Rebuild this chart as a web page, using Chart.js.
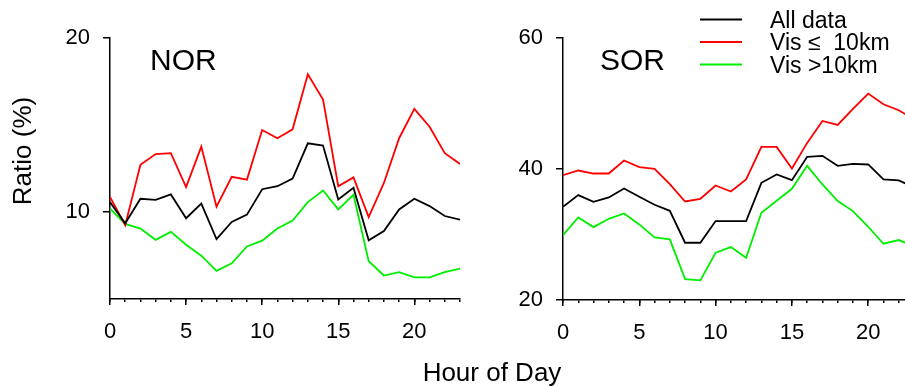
<!DOCTYPE html>
<html>
<head>
<meta charset="utf-8">
<script src="https://cdn.jsdelivr.net/npm/chart.js@4.4.0/dist/chart.umd.min.js"></script>
<style>
  html, body { margin: 0; padding: 0; overflow: hidden; background: #fff; width: 905px; height: 386px; }
  .panel { position: absolute; top: 0; height: 386px; }
  #left { left: 0; width: 480px; }
  #right { left: 470px; width: 450px; }
  #xtitle {
    position: absolute; left: 492px; top: 359px; transform: translateX(-50%);
    font: 26px "Liberation Sans", Arial, sans-serif; line-height: 26px;
    white-space: nowrap; color: #000;
  }
</style>
</head>
<body>
<div class="panel" id="left"><canvas id="cNor" width="480" height="386"></canvas></div>
<div class="panel" id="right"><canvas id="cSor" width="450" height="386"></canvas></div>
<div id="xtitle">Hour of Day</div>
<script>
// Hour of day (x) shared by both panels
const hours = [0, 1, 2, 3, 4, 5, 6, 7, 8, 9, 10, 11, 12, 13, 14, 15, 16, 17, 18, 19, 20, 21, 22, 23];
const seriesNames = ['All data', 'Vis \u2264  10km', 'Vis >10km'];
const seriesColors = ['#000000', '#ff0000', '#00ee00'];

// NOR ratios (%)
const norAll  = [10.57, 9.35, 10.76, 10.70, 11.01, 9.64, 10.48, 8.44, 9.43, 9.85, 11.31, 11.48, 11.92, 13.95, 13.82, 10.72, 11.39, 8.37, 8.90, 10.15, 10.76, 10.34, 9.77, 9.56];
const norLow  = [10.87, 9.24, 12.72, 13.33, 13.38, 11.43, 13.76, 10.30, 12.02, 11.86, 14.71, 14.24, 14.75, 17.91, 16.46, 11.48, 11.99, 9.71, 11.67, 14.24, 15.93, 14.90, 13.38, 12.76];
const norHigh = [10.19, 9.32, 9.05, 8.40, 8.86, 8.12, 7.49, 6.62, 7.05, 8.02, 8.35, 9.05, 9.51, 10.57, 11.24, 10.15, 10.99, 7.17, 6.35, 6.54, 6.24, 6.24, 6.54, 6.75];

// SOR ratios (%)
const sorAll  = [34.23, 36.01, 35.00, 35.66, 37.03, 35.76, 34.54, 33.62, 28.74, 28.74, 32.05, 32.05, 32.05, 37.89, 39.16, 38.30, 41.86, 42.01, 40.48, 40.79, 40.69, 38.40, 38.25, 37.20];
const sorLow  = [39.06, 39.77, 39.31, 39.31, 41.30, 40.28, 40.03, 37.69, 35.04, 35.45, 37.48, 36.57, 38.40, 43.38, 43.38, 40.08, 43.99, 47.34, 46.73, 49.17, 51.51, 49.89, 48.97, 47.60];
const sorHigh = [29.91, 32.60, 31.13, 32.40, 33.21, 31.54, 29.56, 29.25, 23.20, 23.00, 27.22, 28.08, 26.45, 33.32, 35.15, 36.98, 40.48, 37.64, 35.10, 33.57, 31.18, 28.59, 29.15, 28.20];

// Axis ticks
const xTicks = [0, 5, 10, 15, 20];
const norTicks = [10, 20];
const sorTicks = [20, 40, 60];

Chart.defaults.font.family = '"Liberation Sans", Arial, Helvetica, sans-serif';
Chart.defaults.color = '#000';

function toPoints(values) {
  return values.map((v, i) => ({ x: hours[i], y: v }));
}

function makeDatasets(all, low, high) {
  return [all, low, high].map((vals, i) => ({
    label: seriesNames[i],
    data: toPoints(vals),
    borderColor: seriesColors[i],
    backgroundColor: seriesColors[i],
    borderWidth: 1.8,
    pointRadius: 0,
    pointHoverRadius: 0,
    tension: 0,
    fill: false
  }));
}

// Panel name written inside the plot area
function panelLabel(text, dx) {
  return {
    id: 'panelLabel',
    afterDraw(chart) {
      const { ctx, chartArea } = chart;
      ctx.save();
      ctx.font = '30px "Liberation Sans", Arial, sans-serif';
      ctx.fillStyle = '#000';
      ctx.textAlign = 'left';
      ctx.textBaseline = 'alphabetic';
      ctx.fillText(text, chartArea.left + dx, chartArea.top + 32);
      ctx.restore();
    }
  };
}

// Rotated y title for the left panel
const yTitle = {
  id: 'yTitle',
  afterDraw(chart) {
    const { ctx } = chart;
    ctx.save();
    ctx.translate(24, 151);
    ctx.rotate(-Math.PI / 2);
    ctx.font = '26px "Liberation Sans", Arial, sans-serif';
    ctx.fillStyle = '#000';
    ctx.textAlign = 'center';
    ctx.textBaseline = 'middle';
    ctx.fillText('Ratio (%)', 0, 0);
    ctx.restore();
  }
};

// Line legend above the right panel
const lineLegend = {
  id: 'lineLegend',
  afterDraw(chart) {
    const { ctx, chartArea } = chart;
    const x0 = chartArea.left + 137;
    const x1 = x0 + 42;
    const tx = chartArea.left + 207;
    ctx.save();
    ctx.font = '23px "Liberation Sans", Arial, sans-serif';
    ctx.textAlign = 'left';
    ctx.textBaseline = 'alphabetic';
    chart.data.datasets.forEach((ds, i) => {
      const y = 19.5 + i * 22.5;
      ctx.strokeStyle = ds.borderColor;
      ctx.lineWidth = 1.8;
      ctx.beginPath();
      ctx.moveTo(x0, y);
      ctx.lineTo(x1, y);
      ctx.stroke();
      ctx.fillStyle = '#000';
      ctx.fillText(ds.label, tx, y + 8);
    });
    ctx.restore();
  }
};

function makeChart(canvasId, datasets, yMin, yMax, yTicks, yWidth, padRight, xHeight, plugins) {
  return new Chart(document.getElementById(canvasId), {
    type: 'line',
    data: { datasets },
    options: {
      responsive: false,
      animation: false,
      events: [],
      layout: { padding: { top: 38, right: padRight, left: 0, bottom: 0 } },
      plugins: { legend: { display: false }, title: { display: false }, tooltip: { enabled: false } },
      scales: {
        x: {
          type: 'linear', position: 'bottom', min: 0, max: 23, weight: 0,
          afterBuildTicks(s) { s.ticks = hours.map(v => ({ value: v })); },
          ticks: { display: false, autoSkip: false },
          grid: { drawOnChartArea: false, drawTicks: true, tickLength: 3, color: '#000', lineWidth: 1.5 },
          border: { display: true, color: '#000', width: 1.5 },
          afterFit(s) { s.height = 0; }
        },
        xMajor: {
          type: 'linear', position: 'bottom', min: 0, max: 23, weight: 1,
          afterBuildTicks(s) { s.ticks = xTicks.map(v => ({ value: v })); },
          ticks: { autoSkip: false, maxRotation: 0, padding: 14, font: { size: 22 }, color: '#000' },
          grid: { drawOnChartArea: false, drawTicks: true, tickLength: 6, color: '#000', lineWidth: 1.5 },
          border: { display: false },
          afterFit(s) { s.height = xHeight; }
        },
        y: {
          type: 'linear', position: 'left', min: yMin, max: yMax,
          afterBuildTicks(s) { s.ticks = yTicks.map(v => ({ value: v })); },
          ticks: { padding: 13, font: { size: 22 }, color: '#000' },
          grid: { drawOnChartArea: false, drawTicks: true, tickLength: 7, color: '#000', lineWidth: 1.5 },
          border: { display: true, color: '#000', width: 1.5 },
          afterFit(s) { s.width = yWidth; }
        }
      }
    },
    plugins
  });
}

makeChart('cNor', makeDatasets(norAll, norLow, norHigh), 5, 20, norTicks, 110, 20, 87,
  [panelLabel('NOR', 40), yTitle]);
makeChart('cSor', makeDatasets(sorAll, sorLow, sorHigh), 20, 60, sorTicks, 93, 6, 86,
  [panelLabel('SOR', 37), lineLegend]);
</script>
</body>
</html>
